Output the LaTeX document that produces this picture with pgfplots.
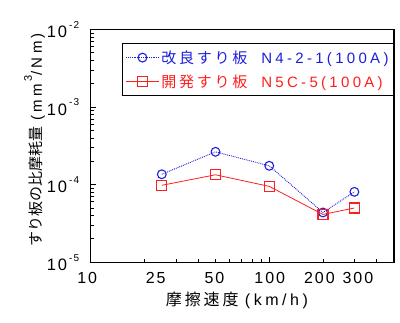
\documentclass[border=0pt]{standalone}
\usepackage{fontspec}
\setmainfont{Liberation Sans}[LetterSpace=12]
\newfontfamily\lat{Liberation Sans}[LetterSpace=22]
\newfontfamily\jp{Noto Sans CJK JP}
\newfontfamily\jpsp{Noto Sans CJK JP}[LetterSpace=18]
\usepackage{pgfplots}
\pgfplotsset{compat=1.18}
\definecolor{myblue}{RGB}{30,30,220}
\definecolor{myred}{RGB}{255,30,30}
\newcommand{\sups}[1]{\raisebox{10pt}{\fontsize{11}{11}\selectfont #1}}
\newcommand{\ysup}[1]{10\kern2pt\raisebox{9pt}{\fontsize{10}{10}\selectfont #1}}
\newcommand{\shiftlab}[2]{\makebox[0pt][c]{\kern#1pt#2}}
\begin{document}
\begin{tikzpicture}
\begin{axis}[name=ax,
  scale only axis, width=303pt, height=232.5pt,
  xmode=log, ymode=log, log basis x=10, log basis y=10,
  xmin=10, xmax=500, ymin=1e-5, ymax=1e-2,
  axis line style={line width=1.2pt},
  tick align=inside, xtick pos=bottom, ytick pos=left,
  major tick length=5pt, minor tick length=3pt,
  tick style={black, line width=0.8pt},
  xtick={10,100}, xticklabels={},
  extra x ticks={10,25,50,100,200,300},
  extra x tick labels={\shiftlab{-7}{10},\shiftlab{-12}{25},\shiftlab{-2}{50},\shiftlab{1}{100},\shiftlab{-7}{200},\shiftlab{7}{300}},
  extra x tick style={major tick length=0pt},
  minor xtick={20,30,40,50,60,70,80,90,200,300,400,500},
  ytick={1e-5,1e-4,1e-3,1e-2},
  yticklabels={\ysup{-5},\ysup{-4},\ysup{-3},\ysup{-2}},
  minor ytick={2e-5,3e-5,4e-5,5e-5,6e-5,7e-5,8e-5,9e-5,2e-4,3e-4,4e-4,5e-4,6e-4,7e-4,8e-4,9e-4,2e-3,3e-3,4e-3,5e-3,6e-3,7e-3,8e-3,9e-3},
  xticklabel style={yshift=-7pt, font=\fontsize{16}{18}\selectfont},
  yticklabel style={xshift=-8pt, font=\fontsize{16.5}{19}\selectfont},
  xlabel={{\jpsp 摩擦速度} {\lat (km/h)}},
  xlabel style={at={(axis description cs:0.482,-0.163)}, anchor=center, font=\fontsize{16}{18}\selectfont},
  ylabel={{\jp すり板の比摩耗量} {\lat (mm\,\sups{3}/Nm)}},
  ylabel style={at={(axis description cs:-0.185,0.525)}, anchor=center, font=\fontsize{15}{17}\selectfont},
  legend style={at={(0.103,0.942)}, anchor=north west, draw=black, line width=1pt,
    font=\fontsize{15}{17}\selectfont, row sep=6pt, inner xsep=3pt, inner ysep=5pt},
  legend cell align=left,
  legend image code/.code={\draw[mark repeat=2,mark phase=2,#1] plot coordinates {(0pt,0pt) (16.5pt,0pt) (33pt,0pt)};},
]
\addplot[myblue, densely dotted, line width=0.9pt, mark=o, mark size=4.4pt,
  mark options={solid, fill=white, line width=1.1pt}]
  coordinates {(25,1.36e-4)(50,2.65e-4)(100,1.75e-4)(200,4.38e-5)(300,8.07e-5)};
\addlegendentry{\textcolor{myblue}{{\jpsp 改良すり板}\hspace{14pt}{\lat N4-2-1(100A)}}}
\addplot[myred, solid, line width=0.8pt, mark=square, mark size=5pt,
  mark options={solid, fill=white, line width=1.1pt}]
  coordinates {(25,9.8e-5)(50,1.34e-4)(100,9.5e-5)(200,4.13e-5)(300,5.0e-5)};
\addlegendentry{\textcolor{myred}{{\jpsp 開発すり板}\hspace{14pt}{\lat N5C-5(100A)}}}
\end{axis}
\path ([xshift=-90.7pt,yshift=-60pt]ax.south west) rectangle ([xshift=6pt,yshift=29.5pt]ax.north east);
\end{tikzpicture}
\end{document}
